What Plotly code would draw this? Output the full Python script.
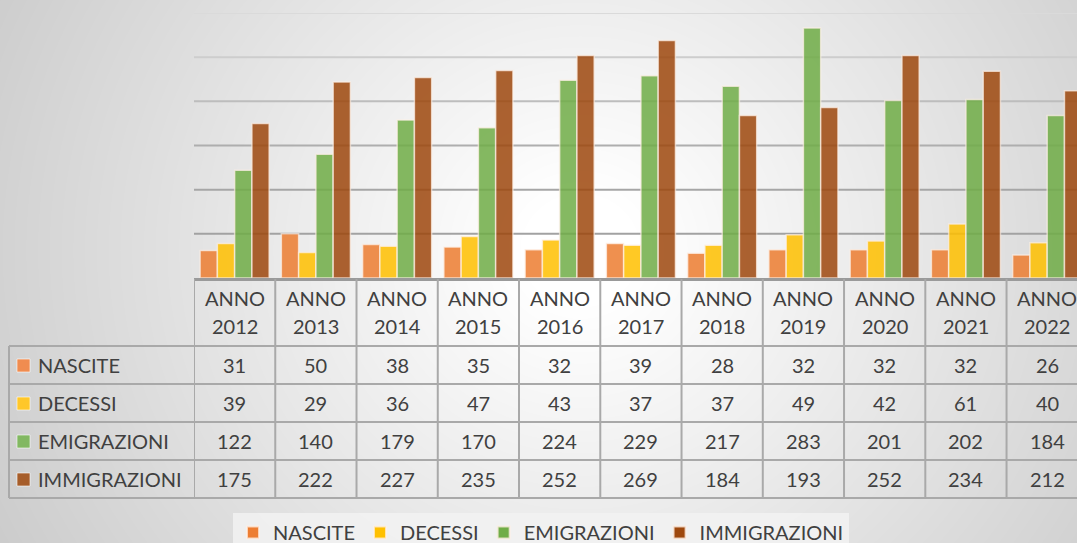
import base64, struct, zlib
import numpy as np
import plotly.graph_objects as go

# ---------------- data ----------------
years = ["2012", "2013", "2014", "2015", "2016", "2017", "2018", "2019", "2020", "2021", "2022"]
series_names = ["NASCITE", "DECESSI", "EMIGRAZIONI", "IMMIGRAZIONI"]
nascite = [31, 50, 38, 35, 32, 39, 28, 32, 32, 32, 26]
decessi = [39, 29, 36, 47, 43, 37, 37, 49, 42, 61, 40]
emigrazioni = [122, 140, 179, 170, 224, 229, 217, 283, 201, 202, 184]
immigrazioni = [175, 222, 227, 235, 252, 269, 184, 193, 252, 234, 212]
grid_ticks = [50, 100, 150, 200, 250, 300]

series_values = [nascite, decessi, emigrazioni, immigrazioni]
colors = ["#ED7D31", "#FFC000", "#70AD47", "#9E480E"]
legend_colors = ["#F08C50", "#FFC72A", "#82B862", "#A65D2A"]
grid_colors = ["#A2A2A2", "#A6A6A6", "#AEAEAE", "#BDBDBD", "#CDCDCD", "#DADADA"]

W, H = 1077, 543
L, T, B = 194, 13, 278          # plot-area pixel edges
PW, PH = W - L, B - T
FONT = "Lato"
TXT = "#404040"
LINE = "#A9A9A9"


def px(x):
    return (x - L) / PW


def py(y):
    return (B - y) / PH


# ---------------- background gradient (PNG) ----------------
def make_png(arr):
    h, w, _ = arr.shape
    raw = b"".join(b"\x00" + arr[i].tobytes() for i in range(h))

    def chunk(tag, data):
        c = struct.pack(">I", len(data)) + tag + data
        return c + struct.pack(">I", zlib.crc32(tag + data) & 0xFFFFFFFF)

    return (b"\x89PNG\r\n\x1a\n"
            + chunk(b"IHDR", struct.pack(">IIBBBBB", w, h, 8, 2, 0, 0, 0))
            + chunk(b"IDAT", zlib.compress(raw, 9))
            + chunk(b"IEND", b""))


yy, xx = np.mgrid[0:H, 0:W].astype(float)
d = np.sqrt((xx - 580) ** 2 + ((yy - 250) * 1.05) ** 2)
val = 255 - 0.085 * np.clip(d - 60, 0, None)
val = np.clip(val, 200, 255).astype(np.uint8)
img = np.stack([val, val, val], axis=-1)
bg_uri = "data:image/png;base64," + base64.b64encode(make_png(img)).decode()

# ---------------- figure ----------------
fig = go.Figure()
xs = list(range(len(years)))
for name, vals, col, lcol in zip(series_names, series_values, colors, legend_colors):
    fig.add_trace(go.Bar(
        x=xs, y=vals, name=name,
        marker=dict(color=col, opacity=0.85,
                    line=dict(color="rgba(255,240,230,0.75)", width=1.5)),
        hoverinfo="y+name",
    ))

shapes = []
# gridlines
for t, c in zip(grid_ticks, grid_colors):
    shapes.append(dict(type="line", xref="paper", yref="y", x0=0, x1=1.02, y0=t, y1=t,
                       line=dict(color=c, width=2), layer="below"))

# table grid
row_lines = [346, 384, 422, 460, 498]
for yl in row_lines:
    shapes.append(dict(type="line", xref="paper", yref="paper", x0=px(9), x1=1.02,
                       y0=py(yl), y1=py(yl), line=dict(color=LINE, width=2)))
for i in range(len(years)):
    shapes.append(dict(type="line", xref="x", yref="paper", x0=i - 0.5, x1=i - 0.5,
                       y0=py(279), y1=py(498), line=dict(color=LINE, width=2)))
shapes.append(dict(type="line", xref="paper", yref="paper", x0=px(9), x1=px(9),
                   y0=py(346), y1=py(498), line=dict(color=LINE, width=2)))

cell_font = dict(family=FONT, size=20, color=TXT)
annotations = []
for i, yr in enumerate(years):
    annotations.append(dict(x=i, y=py(298), xref="x", yref="paper", text="ANNO",
                            xanchor="center", yanchor="middle",
                            showarrow=False, font=cell_font))
    annotations.append(dict(x=i, y=py(326), xref="x", yref="paper", text=yr,
                            xanchor="center", yanchor="middle",
                            showarrow=False, font=cell_font))
row_centers = [365, 403, 441, 479]
for r, (name, vals, lcol) in enumerate(zip(series_names, series_values, legend_colors)):
    yc = row_centers[r]
    annotations.append(dict(x=px(36), y=py(yc), xref="paper", yref="paper", text=name,
                            xanchor="left", yanchor="middle", showarrow=False,
                            font=cell_font))
    shapes.append(dict(type="rect", xref="paper", yref="paper",
                       x0=px(17), x1=px(30), y0=py(yc + 7), y1=py(yc - 6),
                       fillcolor=lcol, line=dict(color="rgba(255,255,255,0.6)", width=1)))
    for i, v in enumerate(vals):
        annotations.append(dict(x=i, y=py(yc), xref="x", yref="paper", text=str(v),
                                xanchor="center", yanchor="middle",
                                showarrow=False, font=cell_font))

fig.update_layout(
    width=W, height=H,
    margin=dict(l=L, r=0, t=T, b=H - B, pad=0, autoexpand=False),
    paper_bgcolor="#E2E2E2",
    plot_bgcolor="rgba(0,0,0,0)",
    barmode="group", bargap=0.15, bargroupgap=0,
    font=dict(family=FONT, size=20, color=TXT),
    xaxis=dict(range=[-0.5, (W - L) / (PW / 10.867) - 0.5], showticklabels=False,
               showgrid=False, zeroline=False, showline=True, linecolor="#9A9A9A",
               linewidth=2.5, ticks="", fixedrange=True),
    yaxis=dict(range=[0, 300], showticklabels=False, showgrid=False, zeroline=False,
               showline=False, ticks="", fixedrange=True),
    showlegend=True,
    legend=dict(orientation="h", x=px(541), xanchor="center", y=py(513), yanchor="top",
                bgcolor="rgba(242,242,242,0.85)", font=dict(family=FONT, size=20, color=TXT),
                itemsizing="constant", traceorder="normal",
                borderwidth=0, itemclick=False, itemdoubleclick=False),
    shapes=shapes,
    annotations=annotations,
    images=[dict(source=bg_uri, xref="paper", yref="paper", x=px(0), y=py(0),
                 sizex=W / PW, sizey=H / PH, xanchor="left", yanchor="top",
                 sizing="stretch", layer="below")],
)

fig.write_html(
    "out.html",
    config={"displayModeBar": False},
    post_script="document.body.style.margin='0';document.body.style.padding='0';"
                "document.documentElement.style.overflow='hidden';",
)
